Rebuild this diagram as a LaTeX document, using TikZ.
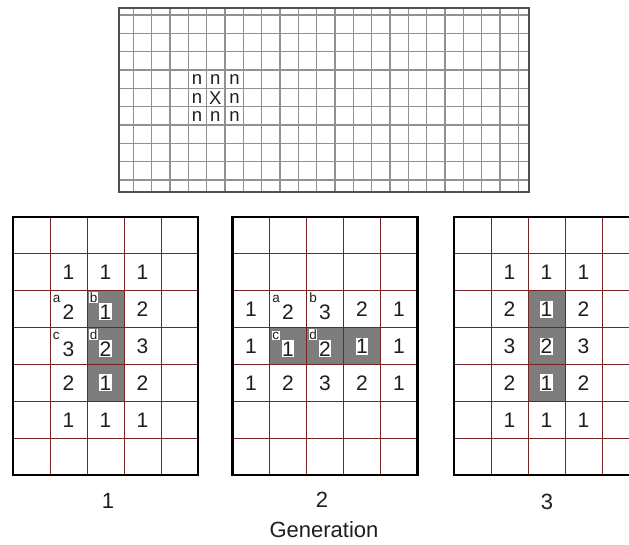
\documentclass[tikz,border=0pt]{standalone}
\usepackage{fontspec}
\setmainfont{Liberation Sans}
\definecolor{gridred}{RGB}{120,35,35}
\definecolor{cellgray}{RGB}{125,125,125}
\definecolor{topline}{RGB}{145,145,145}
\definecolor{topborder}{RGB}{80,80,80}
\definecolor{ink}{RGB}{30,30,30}
\newcommand{\cw}{37}
\newcommand{\ch}{36.86}
\begin{document}
\begin{tikzpicture}[x=1pt,y=-1pt,
  num/.style={font=\fontsize{21}{21}\selectfont, text=ink, inner sep=0pt, text height=15pt, text depth=0pt},
  wnum/.style={num, fill=white, inner xsep=0.4pt, inner ysep=1pt},
  lett/.style={font=\fontsize{13.5}{13.5}\selectfont, text=ink, inner sep=0.6pt, anchor=base west},
  wlett/.style={lett, fill=white},
  topletter/.style={font=\fontsize{18.5}{18.5}\selectfont, text=ink, inner sep=0pt, anchor=base, text height=10pt, text depth=0pt},
  redline/.style={gridred, line width=0.9pt},
  thickborder/.style={black, line width=2.8pt},
  graycell/.style={fill=cellgray},
  label/.style={font=\fontsize{22}{22}\selectfont, text=ink, inner sep=0pt, text height=15.8pt, text depth=0pt}]
\clip (0,0) rectangle (629,545);
\fill[white] (0,0) rectangle (629,545);

% ---------- top grid ----------
\foreach \k in {0,...,21}
  \draw[topline, line width=1.2pt] ({133.3+18.33*\k},8) -- ({133.3+18.33*\k},192);
\foreach \k in {0,...,9}
  \draw[topline, line width=1.2pt] (119,{15+18.33*\k}) -- (529,{15+18.33*\k});
\draw[topborder, line width=1.6pt] (119,8) rectangle (529,192);

\foreach \i/\x in {1/197, 2/215.3, 3/234.6}
  \foreach \j/\y in {1/79.2, 3/115.8}
    \node[topletter] (n\i\j) at (\x,{\y+5.8}) {n};
\node[topletter] (n12) at (197,{97.5+5.8}) {n};
\node[topletter] (n32) at (234.6,{97.5+5.8}) {n};
\node[topletter] (xx) at (215.3,{97.5+7.5}) {X};

% ---------- bottom grids ----------
% gray cells
\foreach \gx in {13,454}
  \fill[graycell] ({\gx+2*\cw},{217+2*\ch}) rectangle ({\gx+3*\cw},{217+5*\ch});
\fill[graycell] ({232.5+\cw},{217+3*\ch}) rectangle ({232.5+4*\cw},{217+4*\ch});

% grid lines and borders
\foreach \gx in {13,232.5,454} {
  \foreach \c in {1,...,4}
    \draw[redline] ({\gx+\c*\cw},217) -- ({\gx+\c*\cw},{217+7*\ch});
  \foreach \r in {1,...,6}
    \draw[redline] (\gx,{217+\r*\ch}) -- ({\gx+5*\cw},{217+\r*\ch});
  \draw[thickborder] (\gx,217) rectangle ({\gx+5*\cw},{217+7*\ch});
}

% numbers: grid 1
\foreach \c/\r/\v in {2/2/1,3/2/1,4/2/1,4/3/2,4/4/3,2/5/2,4/5/2,2/6/1,3/6/1,4/6/1}
  \node[num] (a\c\r) at ({13+(\c-0.5)*\cw},{217+(\r-0.5)*\ch}) {\v};
\foreach \c/\r/\v in {2/3/2,2/4/3}
  \node[num] (a\c\r) at ({13+(\c-0.5)*\cw},{217+(\r-0.5)*\ch+2.5}) {\v};
\foreach \c/\r/\v in {3/3/1,3/4/2}
  \node[wnum] (a\c\r) at ({13+(\c-0.5)*\cw},{217+(\r-0.5)*\ch+2.5}) {\v};
\node[wnum] (a35) at ({13+2.5*\cw},{217+4.5*\ch}) {1};
\node[lett] (la) at ({13+1*\cw+2},{217+2*\ch+11.5}) {a};
\node[wlett] (lb) at ({13+2*\cw+2},{217+2*\ch+11.5}) {b};
\node[lett] (lc) at ({13+1*\cw+2},{217+3*\ch+11.5}) {c};
\node[wlett] (ld) at ({13+2*\cw+2},{217+3*\ch+11.5}) {d};

% numbers: grid 2
\foreach \c/\r/\v in {1/3/1,4/3/2,5/3/1,1/4/1,5/4/1,1/5/1,2/5/2,3/5/3,4/5/2,5/5/1}
  \node[num] (b\c\r) at ({232.5+(\c-0.5)*\cw},{217+(\r-0.5)*\ch}) {\v};
\foreach \c/\r/\v in {2/3/2,3/3/3}
  \node[num] (b\c\r) at ({232.5+(\c-0.5)*\cw},{217+(\r-0.5)*\ch+2.5}) {\v};
\foreach \c/\r/\v in {2/4/1,3/4/2}
  \node[wnum] (b\c\r) at ({232.5+(\c-0.5)*\cw},{217+(\r-0.5)*\ch+2.5}) {\v};
\node[wnum] (b44) at ({232.5+3.5*\cw},{217+3.5*\ch}) {1};
\node[lett] (ma) at ({232.5+1*\cw+2},{217+2*\ch+11.5}) {a};
\node[lett] (mb) at ({232.5+2*\cw+2},{217+2*\ch+11.5}) {b};
\node[wlett] (mc) at ({232.5+1*\cw+2},{217+3*\ch+11.5}) {c};
\node[wlett] (md) at ({232.5+2*\cw+2},{217+3*\ch+11.5}) {d};

% numbers: grid 3
\foreach \c/\r/\v in {2/2/1,3/2/1,4/2/1,2/3/2,4/3/2,2/4/3,4/4/3,2/5/2,4/5/2,2/6/1,3/6/1,4/6/1}
  \node[num] (c\c\r) at ({454+(\c-0.5)*\cw},{217+(\r-0.5)*\ch}) {\v};
\foreach \c/\r/\v in {3/3/1,3/4/2,3/5/1}
  \node[wnum] (c\c\r) at ({454+(\c-0.5)*\cw},{217+(\r-0.5)*\ch}) {\v};

% labels
\node[label] (g1) at (108,500.5) {1};
\node[label] (g2) at (322,500) {2};
\node[label] (g3) at (547,501.5) {3};
\node[label, anchor=base] (gen) at (324,537) {Generation};
\end{tikzpicture}
\end{document}
